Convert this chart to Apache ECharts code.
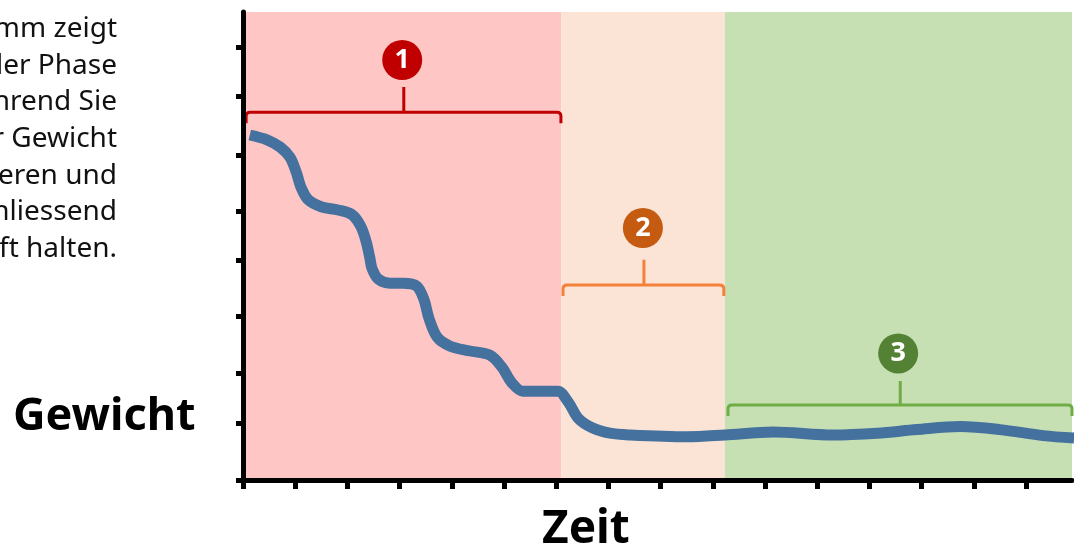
<!DOCTYPE html>
<html>
<head>
<meta charset="utf-8">
<style>html,body{margin:0;padding:0;background:#fff}#chart{width:1074px;height:548px}</style>
<script src="https://cdn.jsdelivr.net/npm/echarts@6/dist/echarts.min.js"></script>
</head>
<body>
<div id="chart"></div>
<script>
// Verlauf: Zeit (x) und Gewicht (y)
var zeit = [0.13,0.46,0.71,0.90,1.02,1.11,1.25,1.51,1.82,2.09,2.26,2.36,2.43,2.47,2.59,2.82,3.07,3.33,3.47,3.56,3.72,3.97,4.35,4.73,4.96,5.15,5.36,5.69,6.03,6.23,6.42,6.69,7.03,7.41,8.51,9.23,10.15,11.30,12.15,12.91,13.74,14.50,15.33,15.92];
var gewicht = [57.5,56.7,55.5,53.8,51.3,48.8,46.7,45.5,45,44.2,42.2,39.7,37,35.3,33.5,32.8,32.8,32.3,30,27,23.8,22.3,21.5,20.8,18.8,16.2,14.8,14.8,14.8,13,10.3,8.7,7.8,7.5,7.2,7.5,8,7.5,7.8,8.4,8.9,8.4,7.4,7];
var xTicks = [0,1,2,3,4,5,6,7,8,9,10,11,12,13,14,15];
var yTicks = [0,9.5,17.8,27.3,36.7,44.8,54.2,64,72.2];

// Phasen
var phaseStart = [0,6.10,9.23];
var phaseEnd = [6.10,9.23,15.88];
var phaseColors = ['#ffc6c6','#fbe4d6','#c6e0b4'];

// Klammern und Nummern
var bracketFrom = [0.06,6.13,9.29];
var bracketTo = [6.09,9.21,15.88];
var bracketY = [61.3,32.5,12.5];
var stemX = [3.08,7.68,12.59];
var stemTop = [65.5,36.7,16.5];
var bracketColors = ['#c00000','#f4803a','#70ad47'];
var badgeX = [3.05,7.66,12.55];
var badgeY = [70,42,21.1];
var badgeLabels = ['1','2','3'];
var badgeColors = ['#c00000','#c55a11','#548235'];

var textLines = ['Das Diagramm zeigt','in der Phase','während Sie','Ihr Gewicht','reduzieren und','anschliessend','dauerhaft halten.'];

var myChart = echarts.init(document.getElementById('chart'));
var fontName = '"Noto Sans"';
var textFont = '"Liberation Sans Narrow", "Noto Sans"';

var graphicText = textLines.map(function (t, i) {
    return {
        type: 'text', right: 1074 - 117, top: 15 + i * 36.7,
        style: { text: t, font: '28px ' + textFont, fill: '#111', textAlign: 'right' }
    };
});

var option = {
    animation: false,
    backgroundColor: '#fff',
    grid: { left: 243, top: 12, width: 829, height: 468 },
    title: [
        { text: 'Gewicht', left: 13, top: 395, textStyle: { fontFamily: fontName, fontWeight: 'bold', fontSize: 45, color: '#000' }, padding: 0 },
        { text: 'Zeit', left: 542, top: 507, textStyle: { fontFamily: fontName, fontWeight: 'bold', fontSize: 46, color: '#000' }, padding: 0 }
    ],
    graphic: graphicText,
    xAxis: {
        type: 'value', min: 0, max: 15.88, z: 5,
        splitLine: { show: false },
        axisLabel: { show: false },
        axisLine: { show: true, onZero: false, lineStyle: { color: '#000', width: 5 } },
        axisTick: { show: true, length: 9, customValues: xTicks, lineStyle: { color: '#000', width: 5 } }
    },
    yAxis: {
        type: 'value', min: 0, max: 78, z: 5,
        splitLine: { show: false },
        axisLabel: { show: false },
        axisLine: { show: true, onZero: false, lineStyle: { color: '#000', width: 5 } },
        axisTick: { show: true, length: 7, customValues: yTicks, lineStyle: { color: '#000', width: 5 } }
    },
    series: [
        {
            type: 'line',
            data: zeit.map(function (x, i) { return [x, gewicht[i]]; }),
            smooth: 0.33,
            symbol: 'none',
            clip: false,
            z: 3,
            lineStyle: { color: '#44719e', width: 11, cap: 'butt' },
            markArea: {
                silent: true,
                data: phaseStart.map(function (s, i) {
                    return [{ xAxis: s, itemStyle: { color: phaseColors[i], opacity: 1 } }, { xAxis: phaseEnd[i] }];
                })
            }
        },
        {
            type: 'custom',
            coordinateSystem: 'cartesian2d',
            silent: true,
            z: 4,
            data: bracketFrom.map(function (f, i) { return [f, bracketTo[i], bracketY[i], stemX[i], stemTop[i], i]; }),
            renderItem: function (params, api) {
                var l = api.coord([api.value(0), api.value(2)]);
                var r = api.coord([api.value(1), api.value(2)]);
                var s = api.coord([api.value(3), api.value(4)]);
                var y = l[1];
                var d = 'M' + l[0] + ' ' + (y + 11) + 'L' + l[0] + ' ' + (y + 4) + 'Q' + l[0] + ' ' + y + ' ' + (l[0] + 4) + ' ' + y +
                    'L' + (r[0] - 4) + ' ' + y + 'Q' + r[0] + ' ' + y + ' ' + r[0] + ' ' + (y + 4) + 'L' + r[0] + ' ' + (y + 11) +
                    'M' + s[0] + ' ' + y + 'L' + s[0] + ' ' + s[1];
                return {
                    type: 'path',
                    shape: { pathData: d },
                    style: { fill: 'none', stroke: bracketColors[api.value(5)], lineWidth: 3 }
                };
            }
        },
        {
            type: 'scatter',
            symbolSize: 40,
            silent: true,
            z: 4,
            data: badgeX.map(function (x, i) {
                return {
                    value: [x, badgeY[i]],
                    itemStyle: { color: badgeColors[i], opacity: 1 },
                    label: {
                        show: true, position: 'inside', formatter: badgeLabels[i],
                        color: '#fff', fontFamily: fontName, fontWeight: 'bold', fontSize: 27
                    }
                };
            })
        }
    ]
};
myChart.setOption(option);
</script>
</body>
</html>
